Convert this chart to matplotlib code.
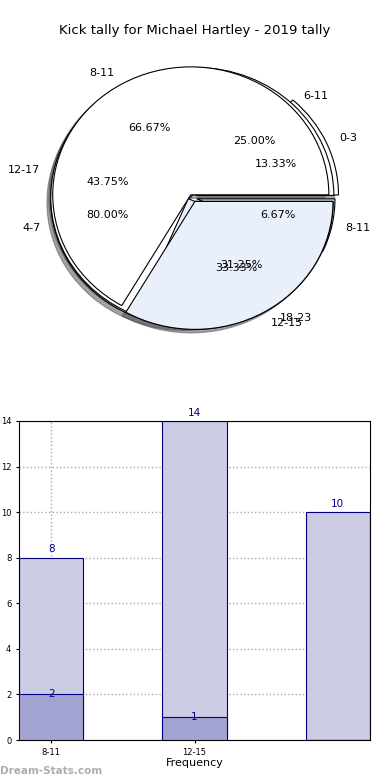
import numpy as np
import matplotlib
matplotlib.use('Agg')
import matplotlib.pyplot as plt

# pie data (three tallies drawn on the same axes)
pie_a_labels = ['8-11', '12-15']
pie_a_values = [2, 1]
pie_b_labels = ['6-11', '12-17', '18-23']
pie_b_values = [8, 14, 10]
pie_c_labels = ['0-3', '4-7', '8-11']
pie_c_values = [2, 12, 1]

# bar data
bar_ticks = ['8-11', '12-15', '']
bar_total = [8, 14, 10]
bar_part = [2, 1, 0]

white = 'white'
blue = '#e9effb'

fig = plt.figure(figsize=(3.9, 7.8), dpi=100)
fig.text(0.5, 0.961, 'Kick tally for Michael Hartley - 2019 tally',
         ha='center', va='center', fontsize=9.5)

ax1 = fig.add_axes([0.052, 0.541, 0.885, 0.41])
wp = {'edgecolor': 'black', 'linewidth': 0.8}
tp = {'fontsize': 8}
ax1.pie(pie_c_values, labels=pie_c_labels, autopct='%.2f%%', colors=[white, blue, blue],
        explode=[0.06, 0.03, 0.03], shadow=True, wedgeprops=wp, textprops=tp)
ax1.pie(pie_b_values, labels=pie_b_labels, autopct='%.2f%%', colors=[white, white, blue],
        explode=[0.03, 0.03, 0.03], shadow=False, wedgeprops=wp, textprops=tp)
ax1.pie(pie_a_values, labels=pie_a_labels, autopct='%.2f%%', colors=[white, blue],
        explode=[0.03, 0.03], shadow=True, wedgeprops=wp, textprops=tp)
ax1.set_aspect('auto')
ax1.set_xlim(-1.25, 1.25)
ax1.set_ylim(-1.25, 1.25)

# bar chart
ax2 = fig.add_axes([19 / 390, 40 / 780, 351 / 390, 319 / 780])
x = np.arange(len(bar_total))
w = 0.45
b1 = ax2.bar(x, bar_total, w, color='#ccccE4', edgecolor='navy', linewidth=0.8, zorder=2)
b2 = ax2.bar(x, bar_part, w, color='#a3a3d1', edgecolor='navy', linewidth=0.8, zorder=3)
for i in range(len(x)):
    ax2.text(x[i], bar_total[i] + 0.15, str(bar_total[i]), ha='center', va='bottom',
             color='navy', fontsize=7.5, zorder=4)
    if bar_part[i] > 0:
        ax2.text(x[i], bar_part[i] - 0.2, str(bar_part[i]), ha='center', va='bottom',
                 color='navy', fontsize=7.5, zorder=4)
ax2.set_xlim(-w / 2, 2 + w / 2)
ax2.set_ylim(0, 14)
ax2.set_xticks([0, 1])
ax2.set_xticklabels(bar_ticks[:2])
ax2.set_yticks(range(0, 15, 2))
ax2.tick_params(labelsize=6, length=2)
ax2.grid(True, linestyle=':', color='#aaaaaa', linewidth=1, zorder=0)
ax2.set_axisbelow(True)
ax2.set_xlabel('Frequency', fontsize=8, labelpad=1)
ax2.set_ylabel('Distribution', fontsize=7, labelpad=6)

fig.text(0.0, 0.012, 'Dream-Stats.com', color='#999999', fontsize=7.5, ha='left', va='center',
         fontweight='bold', alpha=0.8)

plt.savefig('out.png', dpi=100)
